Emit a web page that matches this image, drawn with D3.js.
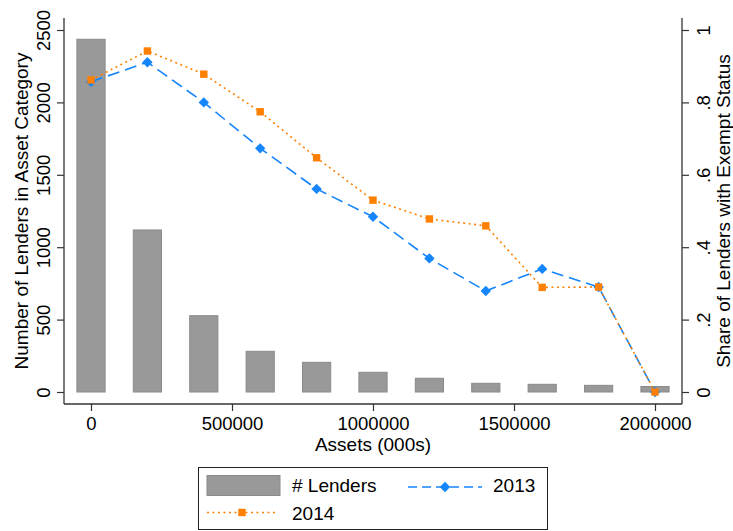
<!DOCTYPE html>
<html>
<head>
<meta charset="utf-8">
<script src="https://cdn.jsdelivr.net/npm/d3@7"></script>
<style>
  html, body { margin: 0; padding: 0; background: #fff; }
  svg { display: block; font-family: "Liberation Sans", Arial, Helvetica, sans-serif; }
</style>
</head>
<body>
<svg id="chart" width="733" height="531"></svg>
<script>
// Asset size categories (000s) and counts of lenders in each
const assets = [0, 200000, 400000, 600000, 800000, 1000000, 1200000, 1400000, 1600000, 1800000, 2000000];
const lenders = [2436, 1119, 527, 281, 205, 136, 95, 60, 53, 46, 38];
// Share of lenders with exempt status, by year
const share2013 = [0.857, 0.911, 0.800, 0.673, 0.561, 0.484, 0.369, 0.279, 0.340, 0.290, 0];
const share2014 = [0.862, 0.942, 0.878, 0.774, 0.647, 0.530, 0.478, 0.459, 0.289, 0.290, 0];
// Axis ticks
const xTicks = [0, 500000, 1000000, 1500000, 2000000];
const leftTicks = [0, 500, 1000, 1500, 2000, 2500];
const rightTicks = [0, 0.2, 0.4, 0.6, 0.8, 1];
const rightTickLabels = ["0", ".2", ".4", ".6", ".8", "1"];

const svg = d3.select("#chart");
const FONT_TICK = 18.5, FONT_TITLE = 19;
const FONT_FAMILY = "Liberation Sans, Arial, sans-serif";
const axisColor = "#333";
const barFill = "#999999", barStroke = "#8a8a8a";
const blue = "#1585fb", orange = "#ff8000";

// plot frame
const frame = { left: 64, right: 682, top: 18, bottom: 404 };

const x = d3.scaleLinear().domain([0, 2000000]).range([91, 655]);
const yL = d3.scaleLinear().domain([0, 2500]).range([392, 30]);
const yR = d3.scaleLinear().domain([0, 1]).range([392, 30]);

// bars
const barW = x(100000) - x(0);
svg.append("g").selectAll("rect").data(assets).join("rect")
  .attr("x", (d) => x(d) - barW / 2)
  .attr("width", barW)
  .attr("y", (d, i) => yL(lenders[i]))
  .attr("height", (d, i) => yL(0) - yL(lenders[i]))
  .attr("fill", barFill)
  .attr("stroke", barStroke)
  .attr("stroke-width", 1);

// diamond marker path
const diamond = (cx, cy, r) => `M${cx},${cy - r}L${cx + r},${cy}L${cx},${cy + r}L${cx - r},${cy}Z`;

function drawSeries(values, color, dash, marker) {
  const pts = assets.map((a, i) => [x(a), yR(values[i])]);
  svg.append("path")
    .attr("d", d3.line()(pts))
    .attr("fill", "none")
    .attr("stroke", color)
    .attr("stroke-width", 1.6)
    .attr("stroke-dasharray", dash);
  const g = svg.append("g");
  pts.forEach(([px, py]) => {
    if (marker === "diamond") {
      g.append("path").attr("d", diamond(px, py, 5.2)).attr("fill", color);
    } else {
      g.append("rect").attr("x", px - 3.7).attr("y", py - 3.7)
        .attr("width", 7.4).attr("height", 7.4).attr("fill", color);
    }
  });
}
drawSeries(share2013, blue, "12,6", "diamond");
drawSeries(share2014, orange, "2,3.5", "square");

// axes
const bottomAxis = d3.axisBottom(x).tickValues(xTicks).tickSize(7).tickSizeOuter(0).tickFormat(d3.format("d"));
const gx = svg.append("g").attr("transform", `translate(0,${frame.bottom})`).call(bottomAxis);
gx.select(".domain").remove();
gx.selectAll(".tick line").attr("stroke", axisColor).attr("stroke-width", 1.2);
gx.selectAll(".tick text").attr("font-size", FONT_TICK).attr("fill", "#000")
  .attr("font-family", FONT_FAMILY).attr("dy", null).attr("y", 25.5);

const leftAxis = d3.axisLeft(yL).tickValues(leftTicks).tickSize(7).tickSizeOuter(0).tickFormat(d3.format("d"));
const gl = svg.append("g").attr("transform", `translate(${frame.left},0)`).call(leftAxis);
gl.select(".domain").remove();
gl.selectAll(".tick line").attr("stroke", axisColor).attr("stroke-width", 1.2);
gl.selectAll(".tick text").attr("font-size", FONT_TICK).attr("fill", "#000")
  .attr("font-family", FONT_FAMILY)
  .attr("x", null).attr("dy", null)
  .attr("text-anchor", "middle")
  .attr("transform", "translate(-14,0) rotate(-90)");

const rightAxis = d3.axisRight(yR).tickValues(rightTicks).tickSize(7).tickSizeOuter(0)
  .tickFormat((d, i) => rightTickLabels[i]);
const gr = svg.append("g").attr("transform", `translate(${frame.right},0)`).call(rightAxis);
gr.select(".domain").remove();
gr.selectAll(".tick line").attr("stroke", axisColor).attr("stroke-width", 1.2);
gr.selectAll(".tick text").attr("font-size", FONT_TICK).attr("fill", "#000")
  .attr("font-family", FONT_FAMILY)
  .attr("x", null).attr("dy", null)
  .attr("text-anchor", "middle")
  .attr("transform", "translate(28,0) rotate(-90)");

// axis lines
svg.append("line").attr("x1", frame.left).attr("x2", frame.right)
  .attr("y1", frame.bottom).attr("y2", frame.bottom)
  .attr("stroke", axisColor).attr("stroke-width", 1.3);
svg.append("line").attr("x1", frame.left).attr("x2", frame.left)
  .attr("y1", frame.top).attr("y2", frame.bottom)
  .attr("stroke", axisColor).attr("stroke-width", 1.3);
svg.append("line").attr("x1", frame.right).attr("x2", frame.right)
  .attr("y1", frame.top).attr("y2", frame.bottom)
  .attr("stroke", axisColor).attr("stroke-width", 1.3);

// axis titles
const midY = (frame.top + frame.bottom) / 2;
svg.append("text").text("Assets (000s)")
  .attr("x", (frame.left + frame.right) / 2).attr("y", 451)
  .attr("text-anchor", "middle").attr("font-size", FONT_TITLE);
svg.append("text").text("Number of Lenders in Asset Category")
  .attr("transform", `translate(27.5,${midY}) rotate(-90)`)
  .attr("text-anchor", "middle").attr("font-size", FONT_TITLE);
svg.append("text").text("Share of Lenders with Exempt Status")
  .attr("transform", `translate(729.5,${midY}) rotate(-90)`)
  .attr("text-anchor", "middle").attr("font-size", FONT_TITLE);

// legend
const lg = svg.append("g");
lg.append("rect").attr("x", 198.5).attr("y", 467.5).attr("width", 349).attr("height", 62)
  .attr("fill", "#fff").attr("stroke", "#222").attr("stroke-width", 1);
lg.append("rect").attr("x", 207).attr("y", 475.5).attr("width", 73).attr("height", 20)
  .attr("fill", barFill).attr("stroke", barStroke);
lg.append("text").text("# Lenders").attr("x", 292).attr("y", 492).attr("font-size", FONT_TITLE);

lg.append("line").attr("x1", 408).attr("x2", 482).attr("y1", 487).attr("y2", 487)
  .attr("stroke", blue).attr("stroke-width", 1.6).attr("stroke-dasharray", "9,5");
lg.append("path").attr("d", diamond(445, 487, 5.2)).attr("fill", blue);
lg.append("text").text("2013").attr("x", 493).attr("y", 492).attr("font-size", FONT_TITLE);

lg.append("line").attr("x1", 207).attr("x2", 277).attr("y1", 512.5).attr("y2", 512.5)
  .attr("stroke", orange).attr("stroke-width", 1.6).attr("stroke-dasharray", "2,3.5");
lg.append("rect").attr("x", 242 - 3.7).attr("y", 512.5 - 3.7).attr("width", 7.4).attr("height", 7.4)
  .attr("fill", orange);
lg.append("text").text("2014").attr("x", 292).attr("y", 520).attr("font-size", FONT_TITLE);
</script>
</body>
</html>
